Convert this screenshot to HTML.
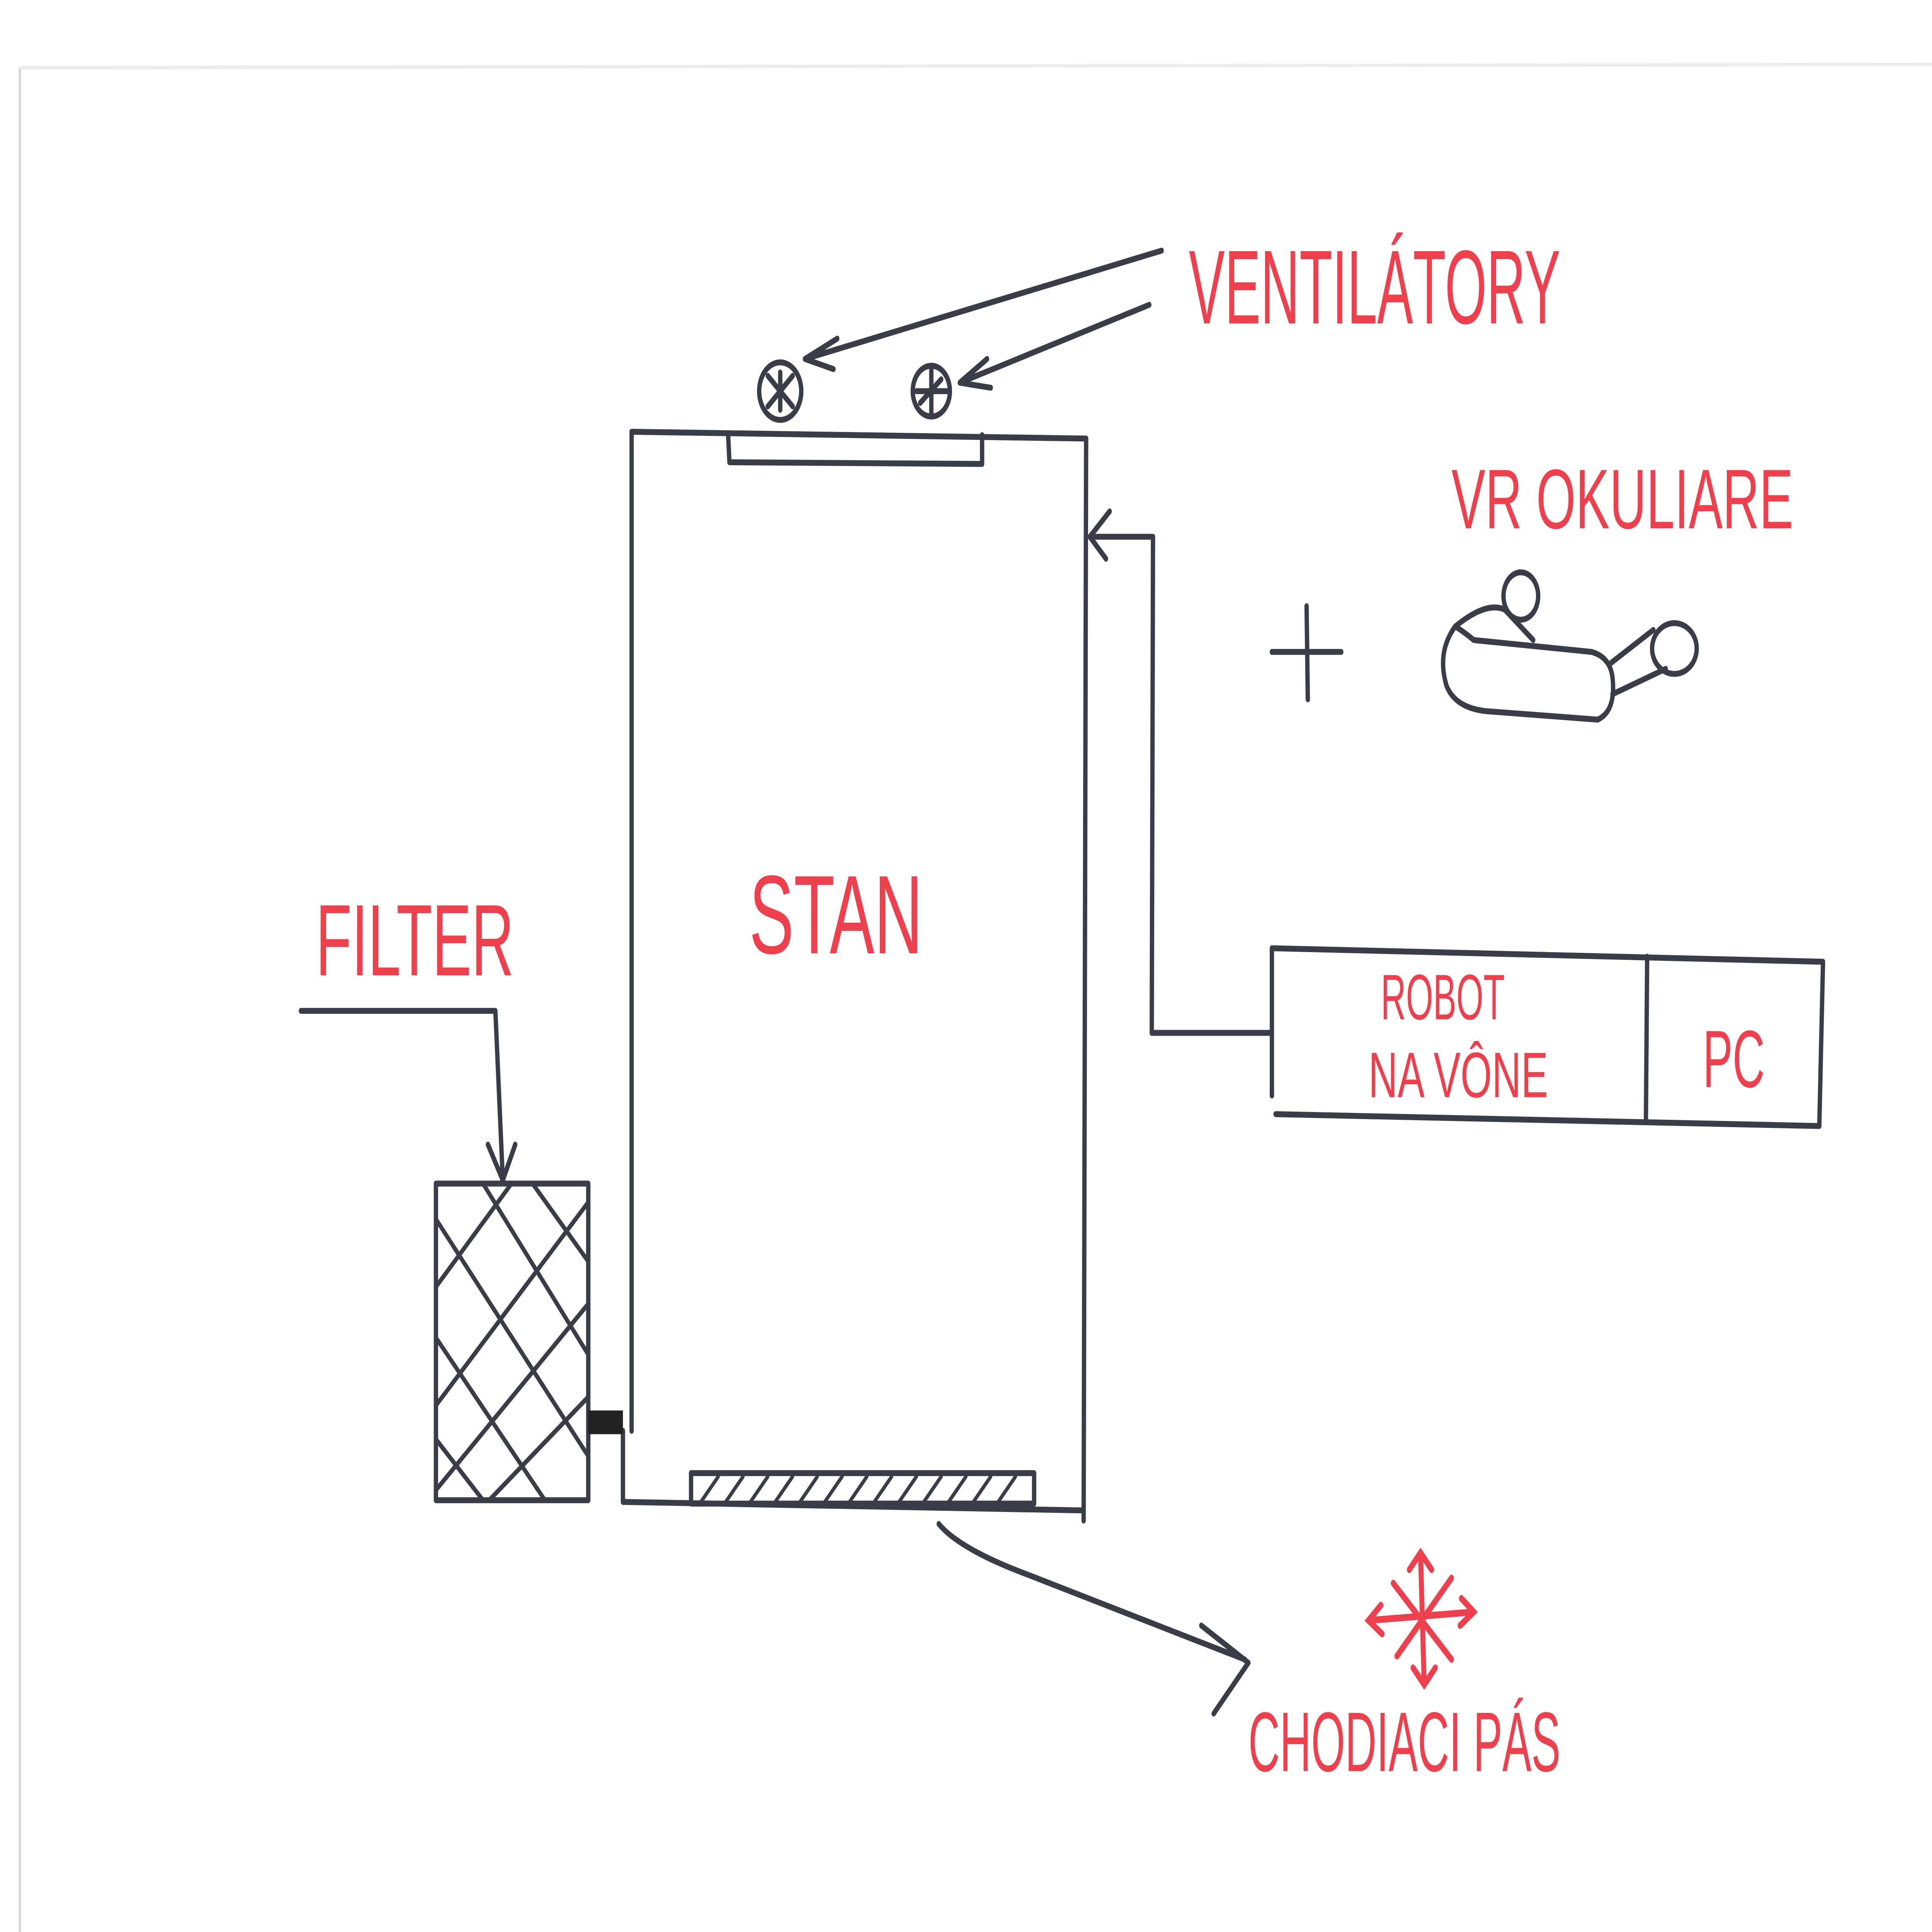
<!DOCTYPE html>
<html><head><meta charset="utf-8">
<style>
html,body{margin:0;padding:0;background:#fff;width:100%;height:100%;overflow:hidden;}
svg{display:block;width:100vw;height:100vh;}
text{font-family:"Liberation Sans",sans-serif;fill:#ee3f4c;}
</style></head>
<body>
<svg viewBox="0 0 1560 1141" preserveAspectRatio="none" xmlns="http://www.w3.org/2000/svg">
<rect width="1560" height="1141" fill="#fff"/>
<line x1="16" y1="40" x2="16" y2="1141" stroke="#d8d8d8" stroke-width="2"/>
<line x1="16" y1="40" x2="1560" y2="38" stroke="#ececec" stroke-width="2"/>
<g stroke="#3a3d47" stroke-width="3.5" fill="none" stroke-linecap="round" stroke-linejoin="round">
<polyline points="510,845 510,255 877,259"/>
<line x1="877" y1="259" x2="875" y2="898"/>
<polyline points="503,845 503,887 874,892"/>
<polyline points="588,258 589,273 793,274 793,257"/>
<circle cx="630" cy="231" r="17"/>
<line x1="620" y1="222" x2="640" y2="240"/><line x1="640" y1="222" x2="620" y2="240"/><line x1="630" y1="220" x2="630" y2="242"/>
<circle cx="752" cy="231" r="15"/>
<line x1="740" y1="231" x2="765" y2="231"/><line x1="752" y1="218" x2="752" y2="244"/><line x1="743" y1="238" x2="760" y2="224"/>
<line x1="938" y1="148" x2="650" y2="212"/>
<polyline points="676,200 650,212 673,218"/>
<line x1="928" y1="180" x2="775" y2="226"/>
<polyline points="797,212 775,226 800,229"/>
<polyline points="1027,610 930,610 931,317 881,317"/>
<polyline points="896,302 880,317 893,330"/>
<polyline points="1027,647 1027,560 1472,568 1469,665"/>
<line x1="1030" y1="658" x2="1468" y2="665"/>
<line x1="1330" y1="565" x2="1329" y2="662"/>
<line x1="1027" y1="385" x2="1083" y2="385"/>
<line x1="1055" y1="358" x2="1056" y2="413"/>
<path d="M1175,370 Q1160,385 1168,405 Q1175,418 1200,420 L1290,425 Q1305,420 1302,400 Q1300,388 1285,385 L1190,378 Q1180,372 1175,370 Z"/>
<path d="M1175,370 Q1200,355 1215,360"/>
<circle cx="1228" cy="352" r="14"/>
<path d="M1300,392 L1335,372 M1302,410 L1345,395"/>
<ellipse cx="1352" cy="383" rx="18" ry="15"/>
<line x1="1215" y1="360" x2="1238" y2="378"/>
<polyline points="243,597 400,597 406,697"/>
<polyline points="394,676 406,697 416,676"/>
<rect x="352" y="699" width="123" height="187"/>
<g stroke-width="3">
<line x1="352" y1="760" x2="413" y2="699"/><line x1="352" y1="830" x2="475" y2="710"/>
<line x1="352" y1="880" x2="475" y2="770"/><line x1="395" y1="886" x2="475" y2="825"/>
<line x1="352" y1="720" x2="475" y2="860"/><line x1="390" y1="699" x2="475" y2="800"/>
<line x1="430" y1="699" x2="475" y2="745"/><line x1="352" y1="790" x2="440" y2="886"/>
<line x1="352" y1="850" x2="390" y2="886"/>
</g>
<rect x="475" y="833" width="28" height="14" fill="#222" stroke="none"/>
<rect x="558" y="870" width="277" height="18"/>
<g stroke-width="2.5">
<line x1="565" y1="888" x2="580" y2="872"/><line x1="585" y1="888" x2="600" y2="872"/>
<line x1="605" y1="888" x2="620" y2="872"/><line x1="625" y1="888" x2="640" y2="872"/>
<line x1="645" y1="888" x2="660" y2="872"/><line x1="665" y1="888" x2="680" y2="872"/>
<line x1="685" y1="888" x2="700" y2="872"/><line x1="705" y1="888" x2="720" y2="872"/>
<line x1="725" y1="888" x2="740" y2="872"/><line x1="745" y1="888" x2="760" y2="872"/>
<line x1="765" y1="888" x2="780" y2="872"/><line x1="785" y1="888" x2="800" y2="872"/>
<line x1="805" y1="888" x2="820" y2="872"/>
</g>
<path d="M758,900 Q775,915 830,930 L1005,980"/>
<polyline points="970,960 1008,982 980,1012"/>
</g>
<g stroke="#ee3f4c" stroke-width="4" fill="none" stroke-linecap="round">
<line x1="1105" y1="957" x2="1190" y2="952"/>
<line x1="1147" y1="917" x2="1150" y2="995"/>
<line x1="1125" y1="935" x2="1172" y2="980"/>
<line x1="1172" y1="932" x2="1128" y2="978"/>
<polyline points="1115,948 1105,957 1116,965"/>
<polyline points="1180,944 1190,952 1179,960"/>
<polyline points="1138,927 1147,917 1156,927"/>
<polyline points="1141,985 1150,995 1159,985"/>
</g>
<text x="960" y="191" font-size="62" textLength="300" lengthAdjust="spacingAndGlyphs">VENTILÁTORY</text>
<text x="1172" y="312" font-size="50" textLength="276" lengthAdjust="spacingAndGlyphs">VR OKULIARE</text>
<text x="605" y="563" font-size="66" textLength="140" lengthAdjust="spacingAndGlyphs">STAN</text>
<text x="255" y="576" font-size="60" textLength="160" lengthAdjust="spacingAndGlyphs">FILTER</text>
<text x="1115" y="602" font-size="38" textLength="100" lengthAdjust="spacingAndGlyphs">ROBOT</text>
<text x="1105" y="648" font-size="38" textLength="145" lengthAdjust="spacingAndGlyphs">NA VÔNE</text>
<text x="1375" y="642" font-size="48" textLength="50" lengthAdjust="spacingAndGlyphs">PC</text>
<text x="1008" y="1046" font-size="50" textLength="252" lengthAdjust="spacingAndGlyphs">CHODIACI PÁS</text>
</svg>
</body></html>
